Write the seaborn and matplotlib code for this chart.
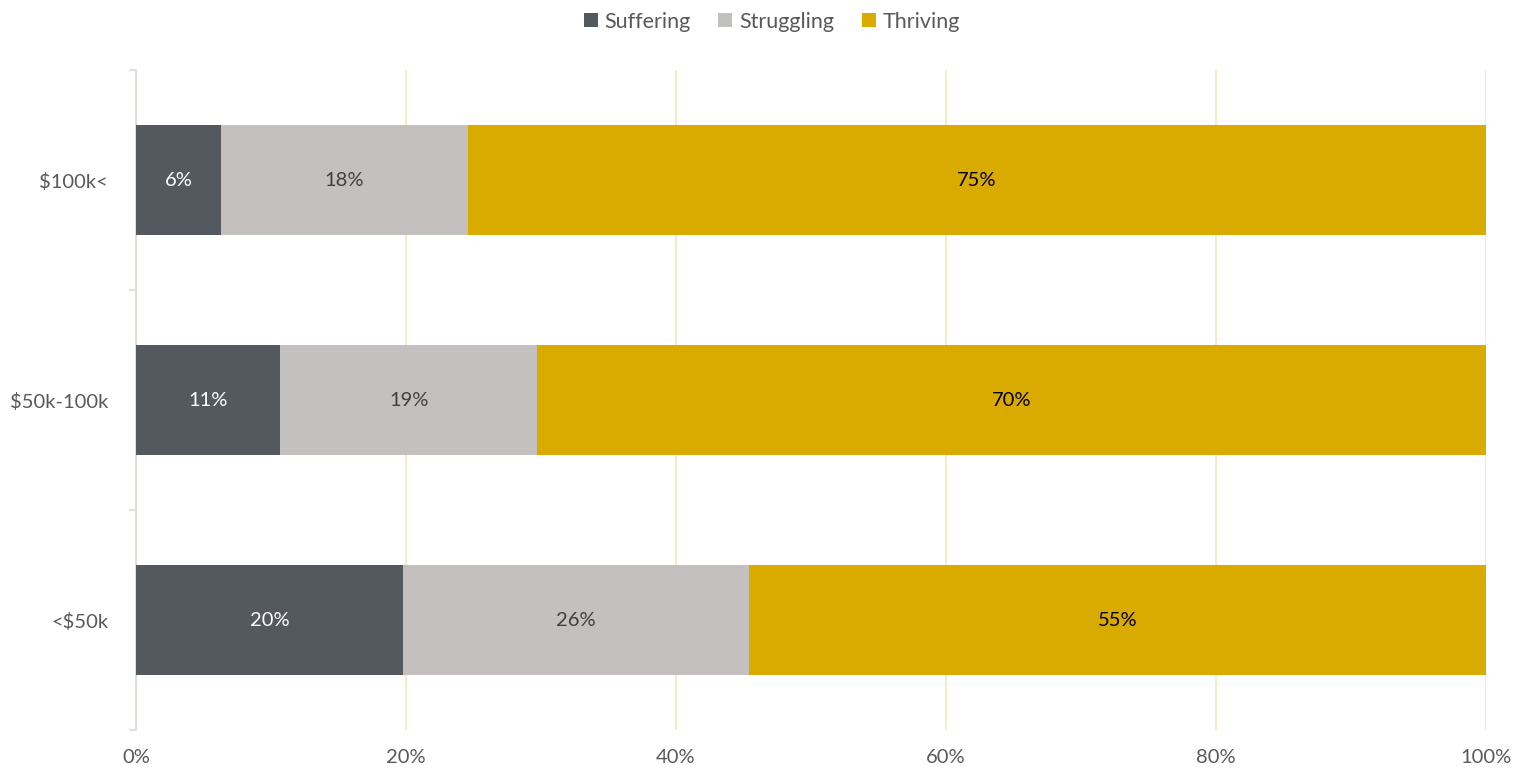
import numpy as np
import pandas as pd
import matplotlib
matplotlib.use("Agg")
import matplotlib.pyplot as plt
from matplotlib.patches import Patch
import seaborn as sns

# Share of households in each wellbeing group, by income bracket (percent)
brackets = ["$100k<", "$50k-100k", "<$50k"]
groups = ["Suffering", "Struggling", "Thriving"]
suffering = [6.3, 10.7, 19.8]
struggling = [18.3, 19.0, 25.6]
thriving = [75.4, 70.3, 54.6]

colors = {"Suffering": "#545960", "Struggling": "#c4c0c0", "Thriving": "#d9aa00"}
label_colors = {"Suffering": "white", "Struggling": "#404040", "Thriving": "black"}
text_gray = "#595959"

df = pd.DataFrame({"bracket": brackets, "Suffering": suffering,
                   "Struggling": struggling, "Thriving": thriving})
totals = df[groups].sum(axis=1)
for g in groups:
    df[g] = df[g] / totals
cum = df[groups].cumsum(axis=1)

sns.set_theme(style="white")
plt.rcParams["font.family"] = ["Lato", "DejaVu Sans"]

fig = plt.figure(figsize=(15.22, 7.74), dpi=100)
ax = fig.add_axes([136 / 1522, 1 - 730 / 774, 1350 / 1522, 660 / 774])

# Stack by drawing cumulative totals from the back to the front
for g in reversed(groups):
    sns.barplot(x=cum[g], y=df["bracket"], order=brackets, color=colors[g],
                width=0.5, orient="h", saturation=1, linewidth=0, ax=ax, zorder=3)

# Value labels centred in each segment
raw_values = {"Suffering": suffering, "Struggling": struggling, "Thriving": thriving}
for i, b in enumerate(brackets):
    left = 0.0
    for g in groups:
        w = df.loc[i, g]
        ax.text(left + w / 2, i, f"{raw_values[g][i]:.0f}%", ha="center", va="center",
                fontsize=14.5, color=label_colors[g], zorder=5)
        left += w

ax.set_xlim(0, 1.0)
ax.set_ylim(2.5, -0.5)
ax.set_xticks(np.arange(0, 1.01, 0.2))
ax.set_xticklabels([f"{int(round(t * 100))}%" for t in np.arange(0, 1.01, 0.2)])
ax.set_xlabel("")
ax.set_ylabel("")

ax.grid(axis="x", color="#f6e8b8", linewidth=1.2, zorder=0)
ax.grid(axis="y", visible=False)

for s in ["top", "right", "bottom"]:
    ax.spines[s].set_visible(False)
ax.spines["left"].set_color("#d9d9d9")
ax.spines["left"].set_linewidth(1.2)

ax.tick_params(axis="x", length=0, pad=14, labelsize=14.5, labelcolor=text_gray)
ax.tick_params(axis="y", which="major", length=0, pad=20, labelsize=14.5, labelcolor=text_gray)
ax.set_yticks([-0.5, 0.5, 1.5, 2.5], minor=True)
ax.tick_params(axis="y", which="minor", left=True, length=5, width=1.2, color="#d9d9d9")

handles = [Patch(facecolor=colors[g], edgecolor="none", label=g) for g in groups]
fig.legend(handles=handles, loc="upper center", bbox_to_anchor=(0.507, 1.01), ncol=3,
           frameon=False, fontsize=15.5, handlelength=0.65, handleheight=0.65,
           handletextpad=0.3, columnspacing=1.3, labelcolor=text_gray)

fig.savefig("out.png", dpi=100)
